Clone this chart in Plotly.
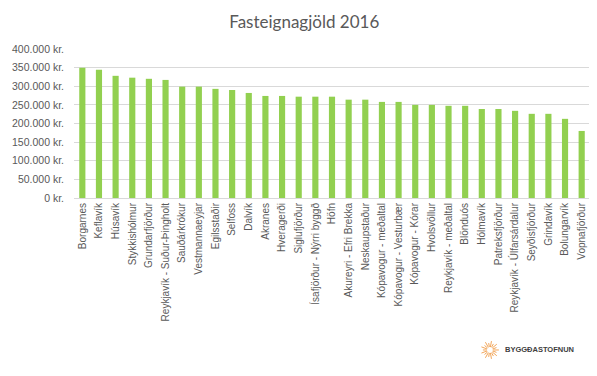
import plotly.graph_objects as go
import math

categories = ["Borgarnes", "Keflavík", "Húsavík", "Stykkishólmur", "Grundarfjörður",
              "Reykjavík - Suður-Þingholt", "Sauðárkrókur", "Vestmannaeyjar", "Egilsstaðir",
              "Selfoss", "Dalvík", "Akranes", "Hveragerði", "Siglufjörður",
              "Ísafjörður - Nýrri byggð", "Höfn", "Akureyri - Efri Brekka", "Neskaupstaður",
              "Kópavogur - meðaltal", "Kópavogur - Vesturbær", "Kópavogur - Kórar",
              "Hvolsvöllur", "Reykjavík - meðaltal", "Blönduós", "Hólmavík", "Patreksfjörður",
              "Reykjavík - Úlfarsárdalur", "Seyðisfjörður", "Grindavík", "Bolungarvík",
              "Vopnafjörður"]
values = [350000, 344000, 328000, 323000, 320000, 317000, 299000, 299000, 293000,
          290000, 282000, 274000, 274000, 272000, 272000, 272000, 264000, 264000,
          258000, 258000, 250000, 250000, 247500, 247500, 239000, 239000, 234000,
          226000, 226000, 212500, 180000]
tick_vals = [0, 50000, 100000, 150000, 200000, 250000, 300000, 350000, 400000]
tick_text = ["0 kr.", "50.000 kr.", "100.000 kr.", "150.000 kr.", "200.000 kr.",
             "250.000 kr.", "300.000 kr.", "350.000 kr.", "400.000 kr."]

fig = go.Figure(go.Bar(x=categories, y=values, marker_color="#92D050",
                       marker_line_width=0, hoverinfo="x+y"))

PW, PH = 516, 149
# logo sunburst
shapes = []
cx, cy = 0.806, -1.02
for i in range(18):
    a = 2 * math.pi * i / 18
    r0 = 3
    r1 = 9 if i % 2 == 0 else 7
    shapes.append(dict(type="line", xref="paper", yref="paper",
                       x0=cx + r0 * math.cos(a) / PW, y0=cy + r0 * math.sin(a) / PH,
                       x1=cx + r1 * math.cos(a) / PW, y1=cy + r1 * math.sin(a) / PH,
                       line=dict(color="#F2A65A", width=1)))

fig.update_layout(
    width=589, height=368,
    margin=dict(l=66, r=7, t=41, b=178, autoexpand=False),
    paper_bgcolor="white", plot_bgcolor="white",
    title=dict(text="Fasteignagjöld 2016", x=0.503, xanchor="center", y=0.962,
               yanchor="middle", font=dict(family="Lato, Open Sans, sans-serif",
                                           size=17, color="#595959")),
    bargap=0.63,
    showlegend=False,
    xaxis=dict(tickangle=-90, tickfont=dict(family="Liberation Sans, Arial", size=10,
                                            color="#595959"),
               showline=True, linecolor="#d9d9d9", ticks="", showgrid=False,
               automargin=False),
    yaxis=dict(range=[0, 400000], tickvals=tick_vals, ticktext=tick_text,
               tickfont=dict(family="Liberation Sans, Arial", size=10.5, color="#595959"),
               gridcolor="#d9d9d9", gridwidth=1, zeroline=False, ticks="",
               ticklabelstandoff=9, automargin=False),
    shapes=shapes,
    annotations=[dict(text="<b>BYGGÐASTOFNUN</b>", xref="paper", yref="paper",
                      x=0.831, y=-1.02, xanchor="left", yanchor="middle", showarrow=False,
                      font=dict(family="Liberation Sans, Arial", size=7.5, color="#404040"))]
)

fig.write_html("out.html")
